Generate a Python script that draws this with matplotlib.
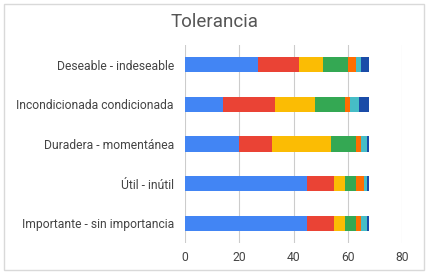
import matplotlib
matplotlib.use("Agg")
import matplotlib.pyplot as plt
from matplotlib.patches import Rectangle
import numpy as np

categories = ["Deseable - indeseable", "Incondicionada condicionada",
              "Duradera - momentánea", "Útil - inútil", "Importante - sin importancia"]
s1 = [27, 14, 20, 45, 45]
s2 = [15, 19, 12, 10, 10]
s3 = [9, 15, 22, 4, 4]
s4 = [9, 11, 9, 4, 4]
s5 = [3, 2, 2, 3, 2]
s6 = [2, 3, 2, 1, 2]
s7 = [3, 4, 1, 1, 1]
series = [s1, s2, s3, s4, s5, s6, s7]
colors = ["#4285F4", "#EA4335", "#FBBC04", "#34A853", "#FF6D01", "#46BDC6", "#1A4CA8"]
xticks = [0, 20, 40, 60, 80]

plt.rcParams['font.family'] = ['Roboto', 'DejaVu Sans']
fig = plt.figure(figsize=(4.28, 2.74), dpi=100)
fig.patches.append(Rectangle((4/428, 4/274), 420/428, 266/274, transform=fig.transFigure,
                             fill=False, edgecolor="#d9d9d9", linewidth=1.0))
ax = fig.add_axes([185/428, 31/274, 217/428, 198/274])
y = np.arange(len(categories))
left = np.zeros(len(categories))
for vals, c in zip(series, colors):
    ax.barh(y, vals, left=left, height=0.38, color=c, zorder=3)
    left += np.array(vals)
ax.set_ylim(len(categories) - 0.5, -0.5)
ax.set_xlim(0, 80)
ax.set_xticks(xticks)
ax.set_xticklabels([str(t) for t in xticks])
ax.set_yticks(y)
ax.set_yticklabels(categories)
ax.grid(axis='x', color="#cccccc", linewidth=0.8, zorder=0)
for s in ax.spines.values():
    s.set_visible(False)
ax.tick_params(axis='both', length=0, labelsize=8.7, labelcolor="#444444")
ax.tick_params(axis='y', pad=8)
ax.tick_params(axis='x', pad=6)
fig.text(215/428, 1 - 22/274, "Tolerancia", ha='center', va='center', fontsize=13.5, color="#555555")
fig.savefig("out.png", dpi=100)
